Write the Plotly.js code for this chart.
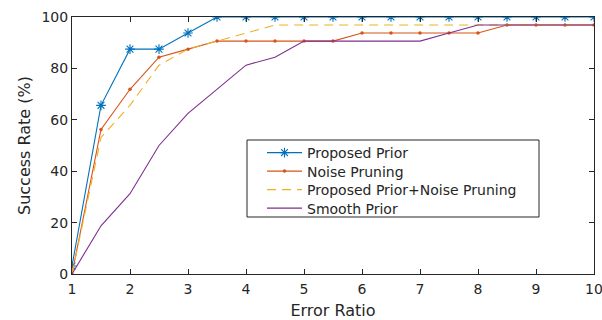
<!DOCTYPE html>
<html>
<head>
<meta charset="utf-8">
<script src="https://cdn.plot.ly/plotly-3.0.1.min.js"></script>
<style>html,body{margin:0;padding:0;background:#fff;}#chart{width:602px;height:320px;}</style>
</head>
<body>
<div id="chart"></div>
<script>
var errorRatio = [1, 1.5, 2, 2.5, 3, 3.5, 4, 4.5, 5, 5.5, 6, 6.5, 7, 7.5, 8, 8.5, 9, 9.5, 10];
var proposedPrior = [3.125, 65.625, 87.5, 87.5, 93.75, 100, 100, 100, 100, 100, 100, 100, 100, 100, 100, 100, 100, 100, 100];
var noisePruning = [0, 56.25, 71.875, 84.375, 87.5, 90.625, 90.625, 90.625, 90.625, 90.625, 93.75, 93.75, 93.75, 93.75, 93.75, 96.875, 96.875, 96.875, 96.875];
var proposedPlusNoise = [0, 53.125, 65.625, 81.25, 87.5, 90.625, 93.75, 96.875, 96.875, 96.875, 96.875, 96.875, 96.875, 96.875, 96.875, 96.875, 96.875, 96.875, 96.875];
var smoothPrior = [0, 18.75, 31.25, 50, 62.5, 71.875, 81.25, 84.375, 90.625, 90.625, 90.625, 90.625, 90.625, 93.75, 96.875, 96.875, 96.875, 96.875, 96.875];
var seriesNames = ['Proposed Prior', 'Noise Pruning', 'Proposed Prior+Noise Pruning', 'Smooth Prior'];
var xTicks = [1, 2, 3, 4, 5, 6, 7, 8, 9, 10];
var yTicks = [0, 20, 40, 60, 80, 100];

var axisColor = '#262626';
var traces = [
  {x: errorRatio, y: proposedPrior, name: seriesNames[0], type: 'scatter', mode: 'lines+markers', legend: 'legend',
   line: {color: '#0072BD', width: 1.1},
   marker: {symbol: 'asterisk-open', size: 8, color: '#0072BD', line: {color: '#0072BD', width: 1.1}}},
  {x: errorRatio, y: noisePruning, name: seriesNames[1], type: 'scatter', mode: 'lines+markers', legend: 'legend2',
   line: {color: '#D95319', width: 1.1},
   marker: {symbol: 'circle', size: 3.5, color: '#D95319'}},
  {x: errorRatio, y: proposedPlusNoise, name: seriesNames[2], type: 'scatter', mode: 'lines', legend: 'legend3',
   line: {color: '#EDB120', width: 1.1, dash: '9px,6px'}},
  {x: errorRatio, y: smoothPrior, name: seriesNames[3], type: 'scatter', mode: 'lines', legend: 'legend4',
   line: {color: '#7E2F8E', width: 1.1}}
];

var L = 72, R = 594, T = 17, B = 274;
function px2x(p) { return (p - L) / (R - L); }
function px2y(p) { return (B - p) / (B - T); }

function legendAt(rowCenter) {
  return {
    x: px2x(262), y: px2y(rowCenter), xanchor: 'left', yanchor: 'middle',
    bgcolor: 'rgba(0,0,0,0)', borderwidth: 0,
    font: {size: 14, color: axisColor, family: 'DejaVu Sans, sans-serif'},
    itemwidth: 35
  };
}

var layout = {
  width: 602, height: 320,
  margin: {l: 72, r: 8, t: 17, b: 46},
  paper_bgcolor: '#ffffff', plot_bgcolor: '#ffffff',
  font: {family: 'DejaVu Sans, sans-serif', color: axisColor, size: 14},
  showlegend: true,
  legend: legendAt(153),
  legend2: legendAt(171.5),
  legend3: legendAt(190),
  legend4: legendAt(208.5),
  shapes: [
    {type: 'rect', xref: 'paper', yref: 'paper', x0: px2x(247), x1: px2x(539), y0: px2y(140), y1: px2y(217),
     line: {color: axisColor, width: 1}, fillcolor: '#ffffff', layer: 'below'}
  ],
  xaxis: {
    range: [1, 10], tickvals: xTicks, ticktext: xTicks.map(String),
    showgrid: false, zeroline: false, showline: true, linecolor: axisColor, linewidth: 1,
    mirror: 'ticks', ticks: 'inside', ticklen: 5, tickcolor: axisColor, tickwidth: 1,
    tickfont: {size: 14, color: axisColor}, ticklabeloverflow: 'allow', ticklabelstandoff: 2,
    title: {text: 'Error Ratio', font: {size: 16, color: axisColor}, standoff: 14}
  },
  yaxis: {
    range: [0, 100], tickvals: yTicks, ticktext: yTicks.map(String),
    showgrid: false, zeroline: false, showline: true, linecolor: axisColor, linewidth: 1,
    mirror: 'ticks', ticks: 'inside', ticklen: 5, tickcolor: axisColor, tickwidth: 1,
    tickfont: {size: 14, color: axisColor}, ticklabeloverflow: 'allow',
    title: {text: 'Success Rate (%)', font: {size: 16, color: axisColor}, standoff: 6}
  }
};

Plotly.newPlot('chart', traces, layout, {displayModeBar: false, staticPlot: true});
</script>
</body>
</html>
